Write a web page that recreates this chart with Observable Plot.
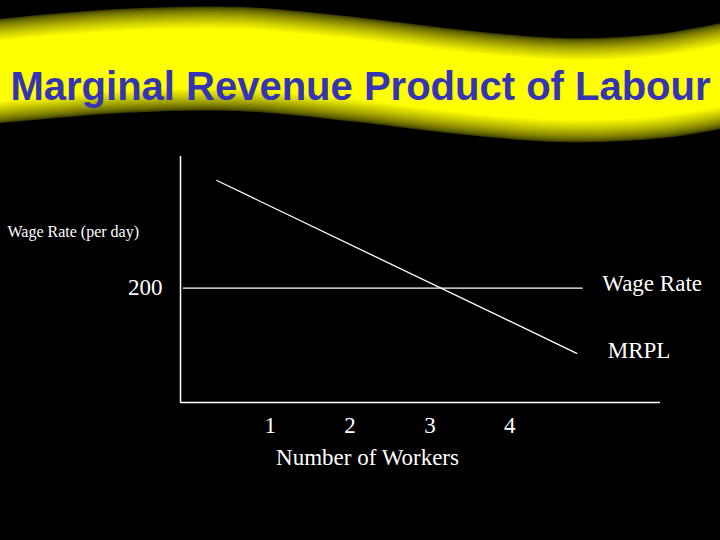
<!DOCTYPE html>
<html>
<head>
<meta charset="utf-8">
<script src="https://cdn.jsdelivr.net/npm/d3@7"></script>
<script src="https://cdn.jsdelivr.net/npm/@observablehq/plot@0.6"></script>
<style>
  html, body { margin: 0; padding: 0; background: #000; }
  #chart { width: 720px; height: 540px; overflow: hidden; }
</style>
</head>
<body>
<div id="chart"></div>
<script>
// ---- data ----
const title = "Marginal Revenue Product of Labour";
const xTicks = [1, 2, 3, 4];
const xLabel = "Number of Workers";
const yLabel = "Wage Rate (per day)";
const yTicks = [200];
const wageRate = 200;
const wageX = [-0.09, 4.91];
const mrplX = [0.33, 4.84];
const mrplY = [388, 86];
const seriesNames = ["Wage Rate", "MRPL"];

const wageData = wageX.map(x => ({x, y: wageRate}));
const mrplData = mrplX.map((x, i) => ({x, y: mrplY[i]}));
const serif = "'Liberation Serif', 'Times New Roman', serif";
const sans = "'Liberation Sans', Arial, sans-serif";

const plot = Plot.plot({
  width: 720,
  height: 540,
  marginLeft: 180,
  marginRight: 60,
  marginTop: 156,
  marginBottom: 138,
  style: {background: "#000", color: "#fff"},
  x: {domain: [-0.125, 5.89]},
  y: {domain: [0, 430]},
  marks: [
    Plot.ruleX([-0.125], {stroke: "#fff", strokeWidth: 1.5}),
    Plot.ruleY([0], {stroke: "#fff", strokeWidth: 1.5}),
    Plot.axisX({ticks: xTicks, tickSize: 0, tickFormat: d => String(d), fontSize: 23,
      fontFamily: serif, fill: "#fff", label: null, tickPadding: 14}),
    Plot.axisY({ticks: yTicks, tickSize: 0, tickFormat: d => String(d), fontSize: 23,
      fontFamily: serif, fill: "#fff", label: null, tickPadding: 18}),
    Plot.line(wageData, {x: "x", y: "y", stroke: "#fff", strokeWidth: 1.2}),
    Plot.line(mrplData, {x: "x", y: "y", stroke: "#fff", strokeWidth: 1.3}),
    Plot.text([seriesNames[0]], {x: wageX[1], y: wageRate, text: d => d, textAnchor: "start",
      dx: 20, dy: -4, fontSize: 23, fontFamily: serif, fill: "#fff"}),
    Plot.text([seriesNames[1]], {x: mrplX[1], y: mrplY[1], text: d => d, textAnchor: "start",
      dx: 31, dy: -3, fontSize: 23, fontFamily: serif, fill: "#fff"}),
    Plot.text([xLabel], {frameAnchor: "bottom", text: d => d, dx: -53, dy: 55,
      lineAnchor: "middle", fontSize: 23, fontFamily: serif, fill: "#fff"}),
    Plot.text([yLabel], {frameAnchor: "top-left", text: d => d, textAnchor: "start", dx: -173, dy: 75,
      lineAnchor: "middle", fontSize: 16, fontFamily: serif, fill: "#fff"}),
    Plot.text([title], {frameAnchor: "top", text: d => d, dx: -60, dy: -69, lineAnchor: "middle",
      fontSize: 40, fontWeight: "bold", fontFamily: sans, fill: "#3434b4"})
  ]
});

// decorative wavy banner behind the title
const svg = d3.select(plot);
const bannerPts = [[-30, 74], [0, 71], [120, 61], [240, 59], [360, 70], [460, 82], [560, 90], [660, 86], [750, 70]];
const path = d3.line().curve(d3.curveCatmullRom)(bannerPts);
const g = svg.insert("g", ":first-child");
const N = 22;
const color = d3.interpolateRgb("#3a3a00", "#ffff00");
for (let i = 0; i <= N; i++) {
  const t = i / N;
  g.append("path").attr("d", path).attr("fill", "none")
    .attr("stroke", color(Math.pow(t, 0.7)))
    .attr("stroke-width", 104 - i * 2);
}
document.getElementById("chart").appendChild(plot);
</script>
</body>
</html>
